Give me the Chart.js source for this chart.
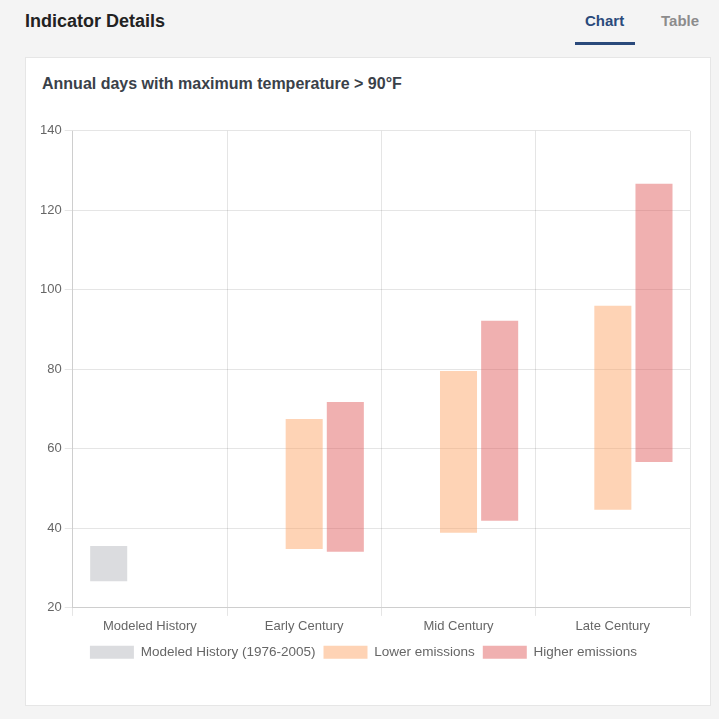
<!DOCTYPE html>
<html>
<head>
<meta charset="utf-8">
<script src="https://cdn.jsdelivr.net/npm/chart.js@4"></script>
<style>
  html, body { margin: 0; padding: 0; background: #f4f4f4; font-family: "Liberation Sans", Arial, sans-serif; }
  .page { position: relative; width: 719px; height: 719px; overflow: hidden; }
  .head { position: absolute; left: 25px; top: 11px; font-size: 18px; font-weight: bold; color: #222; }
  .tab { position: absolute; top: 12px; font-size: 15px; font-weight: bold; }
  .tab.on { left: 585px; color: #2a4a7b; }
  .tab.off { left: 661px; color: #8c8c8c; }
  .bar { position: absolute; left: 575px; top: 42px; width: 60px; height: 3px; background: #2a4a7b; }
  .card { position: absolute; left: 25px; top: 57px; width: 684px; height: 647px; background: #fff; border: 1px solid #e6e6e6; }
  .title { position: absolute; left: 16px; top: 17px; font-size: 16px; font-weight: bold; color: #3a4149; }
  .wrap { position: absolute; left: 4px; top: 62px; width: 676px; height: 612px; }
</style>
</head>
<body>
<div class="page">
  <div class="head">Indicator Details</div>
  <div class="tab on">Chart</div>
  <div class="tab off">Table</div>
  <div class="bar"></div>
  <div class="card">
    <div class="title">Annual days with maximum temperature &gt; 90°F</div>
    <div class="wrap"><canvas id="myChart"></canvas></div>
  </div>
</div>
<script>
const labels = ['Modeled History', 'Early Century', 'Mid Century', 'Late Century']
const history = [[26.7, 35.6], null, null, null]
const lower = [null, [34.8, 67.5], [38.9, 79.6], [44.7, 96]]
const higher = [null, [34.1, 71.8], [41.9, 92.2], [56.7, 126.7]]
const yTicks = [20, 40, 60, 80, 100, 120, 140]

const data = {
    labels: labels,
    datasets: [{
            label: 'Modeled History (1976-2005)',
            data: history,
            backgroundColor: 'rgba(200, 202, 206, 0.65)'
        },
        {
            label: 'Lower emissions',
            data: lower,
            backgroundColor: 'rgba(252, 158, 90, 0.45)'
        },
        {
            label: 'Higher emissions',
            data: higher,
            backgroundColor: 'rgba(222, 80, 80, 0.45)'
        }
    ]
};
const config = {
    type: 'bar',
    data: data,
    options: {
        responsive: true,
        maintainAspectRatio: false,
        animation: false,
        layout: { padding: { left: 7, right: 16, top: 4, bottom: 63 } },
        plugins: {
            legend: {
                position: 'bottom',
                labels: { boxWidth: 44, boxHeight: 13, padding: 8, color: '#666', font: { size: 13.5, family: 'Liberation Sans' } }
            },
            tooltip: { enabled: false }
        },
        scales: {
            x: {
                grid: { color: 'rgba(0,0,0,0.1)' },
                ticks: { color: '#666', font: { size: 13, family: 'Liberation Sans' } }
            },
            y: {
                min: yTicks[0],
                max: yTicks[yTicks.length - 1],
                afterBuildTicks: axis => { axis.ticks = yTicks.map(v => ({ value: v })) },
                grid: { color: 'rgba(0,0,0,0.1)' },
                ticks: { color: '#666', font: { size: 13, family: 'Liberation Sans' } }
            }
        }
    }
};
var myChart = new Chart(
    document.getElementById('myChart'),
    config
)
</script>
</body>
</html>
